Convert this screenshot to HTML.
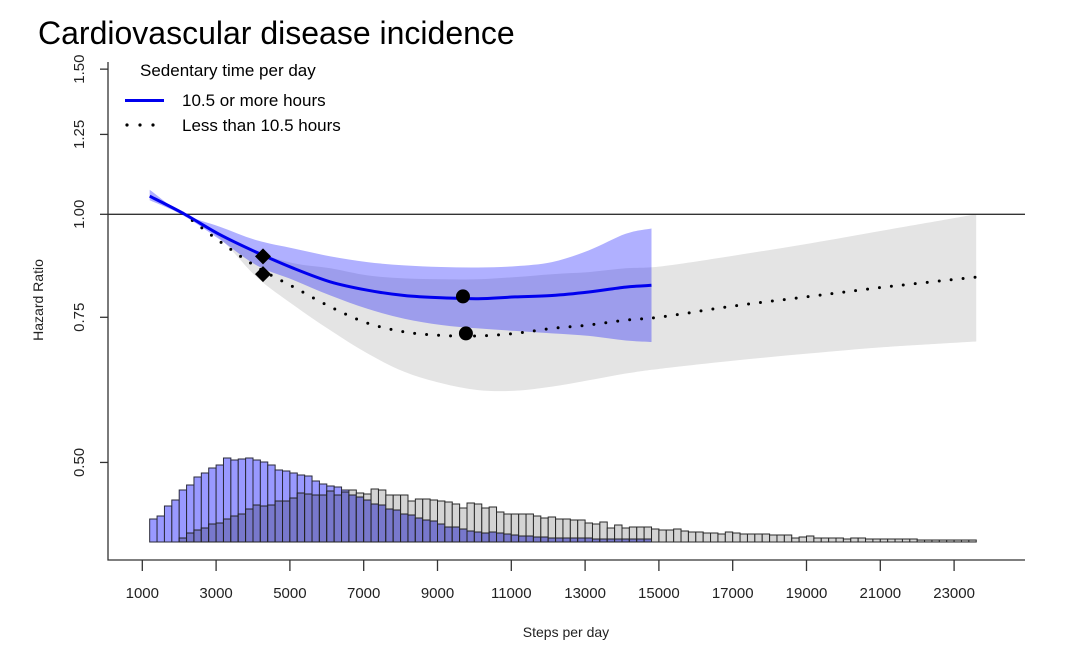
<!DOCTYPE html>
<html><head><meta charset="utf-8"><style>
html,body{margin:0;padding:0;background:#fff;}
svg{display:block;font-family:"Liberation Sans",sans-serif;}
</style></head><body>
<svg id="chart" width="1080" height="653" viewBox="0 0 1080 653">
<text x="38" y="44" font-size="32" fill="#000">Cardiovascular disease incidence</text>
<g id="bands"></g>
<g id="hist"></g>
<line x1="108" y1="214.3" x2="1025" y2="214.3" stroke="#333" stroke-width="1.3"/>
<g id="lines"></g>
<g id="axes"></g>
<g>
<text x="140" y="76" font-size="17" fill="#000">Sedentary time per day</text>
<line x1="125" y1="100.5" x2="164" y2="100.5" stroke="#0000ee" stroke-width="3"/>
<text x="182" y="106" font-size="17" fill="#000">10.5 or more hours</text>
<g fill="#000"><circle cx="127" cy="125" r="1.6"/><circle cx="140" cy="125" r="1.6"/><circle cx="153" cy="125" r="1.6"/></g>
<text x="182" y="131" font-size="17" fill="#000">Less than 10.5 hours</text>
</g>
</svg>
<script>
const NS='http://www.w3.org/2000/svg';
// ---- data ----
const blueSteps=[1200,2100,3100,4100,5100,6100,7100,8100,9100,10100,11100,12100,13100,14100,14800];
const blueHR=[1.052,1.003,0.945,0.899,0.860,0.828,0.809,0.797,0.792,0.790,0.794,0.797,0.805,0.816,0.820];
const blueUpper=[1.071,1.002,0.966,0.930,0.909,0.889,0.875,0.867,0.863,0.862,0.865,0.875,0.904,0.947,0.961];
const blueLower=[1.040,0.997,0.932,0.867,0.832,0.797,0.768,0.747,0.734,0.727,0.722,0.717,0.712,0.703,0.700];
const graySteps=[2100,3100,4100,5100,6100,7100,8100,9100,10100,11100,12100,13100,14100,15100,17100,19100,21100,23600];
const grayHR=[1.003,0.927,0.863,0.816,0.772,0.738,0.720,0.713,0.712,0.717,0.727,0.734,0.744,0.751,0.775,0.795,0.816,0.839];
const grayUpper=[1.0,0.948,0.900,0.872,0.860,0.843,0.836,0.834,0.834,0.839,0.846,0.851,0.860,0.865,0.892,0.922,0.956,1.0];
const grayLower=[1.0,0.935,0.839,0.776,0.723,0.678,0.644,0.624,0.612,0.611,0.618,0.629,0.641,0.650,0.665,0.678,0.690,0.701];
const diamondSteps=[4271,4271];
const diamondHR=[0.889,0.846];
const circleSteps=[9690,9770];
const circleHR=[0.795,0.717];
const histStart=1200, binWidth=200;
const blueCounts=[23,26,36,42,52,57,65,69,74,77,84,82,83,84,82,80,77,72,71,69,67,66,61,58,56,55,52,47,45,42,38,37,33,32,28,27,24,22,21,18,15,15,13,11,10,9,10,9,8,7,6,6,5,5,4,4,4,4,4,4,3,3,3,3,3,3,3,3];
const grayCounts=[0,0,0,0,4,9,12,14,18,19,23,26,28,33,37,36,37,41,41,44,49,48,47,47,51,47,50,52,49,48,53,52,47,47,47,41,43,43,42,41,40,38,34,39,38,34,35,30,28,28,28,28,26,24,25,23,23,22,22,19,18,20,14,17,14,15,15,15,13,12,12,13,11,10,10,9,9,8,10,9,8,8,8,8,7,7,7,4,5,6,4,4,4,4,3,4,4,3,3,3,3,3,3,3,2,2,2,2,2,2,2,2];
const xTicks=[1000,3000,5000,7000,9000,11000,13000,15000,17000,19000,21000,23000];
const yTicks=[0.50,0.75,1.00,1.25,1.50];
const yTickLabels=["0.50","0.75","1.00","1.25","1.50"];
// ---- scales ----
function xs(s){return 142.3+(s-1000)*0.0369;}
function ys(h){return 214.3-358*Math.log(h);}
const histBase=542;
function hs(c){return c*1.0;}
function mk(tag,attrs,parent){const e=document.createElementNS(NS,tag);for(const k in attrs)e.setAttribute(k,attrs[k]);parent.appendChild(e);return e;}
function segs(p){let d='';
  for(let i=0;i<p.length-1;i++){const p0=p[Math.max(0,i-1)],p1=p[i],p2=p[i+1],p3=p[Math.min(p.length-1,i+2)];
  d+=`C${(p1[0]+(p2[0]-p0[0])/6).toFixed(1)},${(p1[1]+(p2[1]-p0[1])/6).toFixed(1)} ${(p2[0]-(p3[0]-p1[0])/6).toFixed(1)},${(p2[1]-(p3[1]-p1[1])/6).toFixed(1)} ${p2[0].toFixed(1)},${p2[1].toFixed(1)}`;}return d;}
function pts(st,v){return st.map((s,i)=>[xs(s),ys(v[i])]);}
function smooth(st,v){const p=pts(st,v);return 'M'+p[0][0].toFixed(1)+','+p[0][1].toFixed(1)+segs(p);}
function bandPath(st,up,lo){const a=pts(st,up),b=pts(st,lo).reverse();
  return 'M'+a[0][0]+','+a[0][1]+segs(a)+'L'+b[0][0]+','+b[0][1]+segs(b)+'Z';}
const bands=document.getElementById('bands');
let gb=mk('path',{d:bandPath(graySteps,grayUpper,grayLower),fill:'#e4e4e4'},bands);


let bb=mk('path',{d:bandPath(blueSteps,blueUpper,blueLower),fill:'rgba(0,0,255,0.31)'},bands);


// histogram
const hist=document.getElementById('hist');
const n=Math.max(blueCounts.length,grayCounts.length);
for(let i=0;i<n;i++){
  const x0=xs(histStart+i*binWidth),w=xs(histStart+(i+1)*binWidth)-x0;
  const b=blueCounts[i]||0,g=grayCounts[i]||0;
  if(b>0){const r=mk('rect',{x:x0,y:histBase-hs(b),width:w,height:hs(b),fill:'#9999ff',stroke:'#2a2a3a','stroke-width':1},hist);
    
    }
  if(g>0){const r=mk('rect',{x:x0,y:histBase-hs(g),width:w,height:hs(g),fill:'#d4d4d4',stroke:'#2a2a2a','stroke-width':1},hist);
    
    }
  const m=Math.min(b,g);
  if(m>0){const r=mk('rect',{x:x0,y:histBase-hs(m),width:w,height:hs(m),fill:'#7878cc',stroke:'#222','stroke-width':1},hist);
    
    }
}
// lines
const lines=document.getElementById('lines');
let dl=mk('path',{d:smooth(graySteps,grayHR),fill:'none',stroke:'#000','stroke-width':3,'stroke-linecap':'round','stroke-dasharray':'0 12'},lines);


let bl=mk('path',{d:smooth(blueSteps,blueHR),fill:'none',stroke:'#0000ee','stroke-width':3},lines);


diamondSteps.forEach((s,i)=>{const cx=xs(s),cy=ys(diamondHR[i]),r=8;
  const p=mk('polygon',{points:`${cx},${cy-r} ${cx+r},${cy} ${cx},${cy+r} ${cx-r},${cy}`,fill:'#000'},lines);
  
  });
circleSteps.forEach((s,i)=>{const c=mk('circle',{cx:xs(s),cy:ys(circleHR[i]),r:7,fill:'#000'},lines);
  
  });
// axes
const ax=document.getElementById('axes');
let a1=mk('path',{d:'M108,62V560H1025',fill:'none',stroke:'#333','stroke-width':1.3},ax);


xTicks.forEach(t=>{const x=xs(t);mk('line',{x1:x,y1:560,x2:x,y2:571,stroke:'#333','stroke-width':1.3},ax);
  const tx=mk('text',{x:x,y:598,'font-size':15,'text-anchor':'middle',fill:'#222'},ax);tx.textContent=t;
  
  });
yTicks.forEach((t,i)=>{const y=ys(t);mk('line',{x1:100,y1:y,x2:108,y2:y,stroke:'#333','stroke-width':1.3},ax);
  const tx=mk('text',{x:0,y:0,'font-size':15,'text-anchor':'middle',fill:'#222',transform:`translate(84,${y}) rotate(-90)`},ax);tx.textContent=yTickLabels[i];
  
  });
let xt=mk('text',{x:566,y:637,'font-size':14,'text-anchor':'middle',fill:'#222'},ax);xt.textContent='Steps per day';


let yt=mk('text',{x:0,y:0,'font-size':14,'text-anchor':'middle',fill:'#222',transform:'translate(43,300) rotate(-90)'},ax);yt.textContent='Hazard Ratio';


</script>
</body></html>
